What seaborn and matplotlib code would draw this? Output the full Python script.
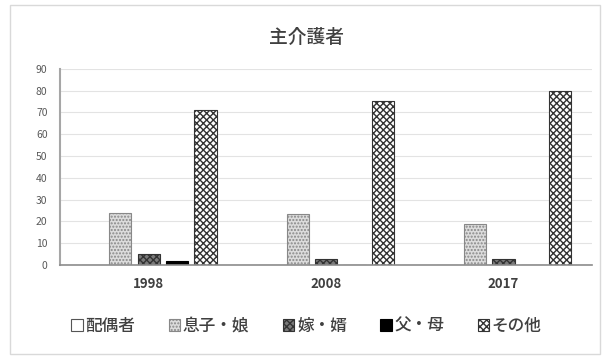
import pandas as pd
import matplotlib.pyplot as plt
import seaborn as sns
from matplotlib.patches import Rectangle

# data
years = ["1998", "2008", "2017"]
groups = ["配偶者", "息子・娘", "嫁・婿", "父・母", "その他"]
v_haigusha = [0, 0, 0]
v_musuko = [24, 23.5, 19]
v_yome = [5, 2.5, 2.5]
v_fubo = [2, 0, 0]
v_sonota = [71, 75, 80]

values = [v_haigusha, v_musuko, v_yome, v_fubo, v_sonota]
rows = []
for g, vals in zip(groups, values):
    for y, v in zip(years, vals):
        rows.append({"年": y, "区分": g, "割合": v})
df = pd.DataFrame(rows)

sns.set_theme(style="white")
plt.rcParams['font.family'] = ['Noto Sans CJK JP', 'DejaVu Sans']

fig = plt.figure(figsize=(6.13, 3.58), dpi=100)
ax = fig.add_axes([0.098, 0.26, 0.868, 0.548])

ax = sns.barplot(data=df, x="年", y="割合", hue="区分", hue_order=groups,
                 order=years, width=0.8, gap=0.22, ax=ax, legend=False)

# styles per series: facecolor, hatch, edgecolor
styles = [
    ("white", "", "#555555"),
    ("#dcdcdc", ".....", "#888888"),
    ("#7a7a7a", "xxxxx", "#333333"),
    ("black", "", "black"),
    ("white", "xxxxx", "#333333"),
]
handles = []
for cont, (fc, h, ec) in zip(ax.containers, styles):
    for p in cont:
        p.set_facecolor(fc)
        p.set_hatch(h)
        p.set_edgecolor(ec)
        p.set_linewidth(0.8)
    handles.append(Rectangle((0, 0), 1, 1, facecolor=fc, hatch=h,
                             edgecolor=ec, linewidth=0.8))

ax.set_ylim(0, 90)
ax.set_xlim(-0.5, 2.5)
ax.set_yticks(range(0, 91, 10))
ax.yaxis.grid(True, color="#e3e3e3", linewidth=0.8)
ax.set_axisbelow(True)
ax.set_xlabel("")
ax.set_ylabel("")
for s in ["top", "right"]:
    ax.spines[s].set_visible(False)
ax.spines["left"].set_color("#a6a6a6")
ax.spines["left"].set_linewidth(1.5)
ax.spines["bottom"].set_color("#8c8c8c")
ax.spines["bottom"].set_linewidth(1.2)
ax.tick_params(axis="y", labelsize=7.5, colors="#595959", length=0, pad=9)
ax.tick_params(axis="x", labelsize=9.5, colors="#404040", length=0, pad=9)
for t in ax.get_xticklabels():
    t.set_fontweight("bold")

fig.text(0.5, 0.895, "主介護者", ha="center", va="center",
         fontsize=13.5, fontweight="medium", color="#404040")

fig.legend(handles, groups, loc="center", bbox_to_anchor=(0.5, 0.09), ncol=5,
           frameon=False, handlelength=0.7, handleheight=0.7,
           handletextpad=0.15, columnspacing=2.0, labelcolor="#404040",
           prop={"weight": "medium", "size": 12})

# outer chart border
fig.patches.append(Rectangle((0.016, 0.01), 0.963, 0.975, transform=fig.transFigure,
                             fill=False, edgecolor="#d9d9d9", linewidth=1))

fig.savefig("out.png", dpi=100)
